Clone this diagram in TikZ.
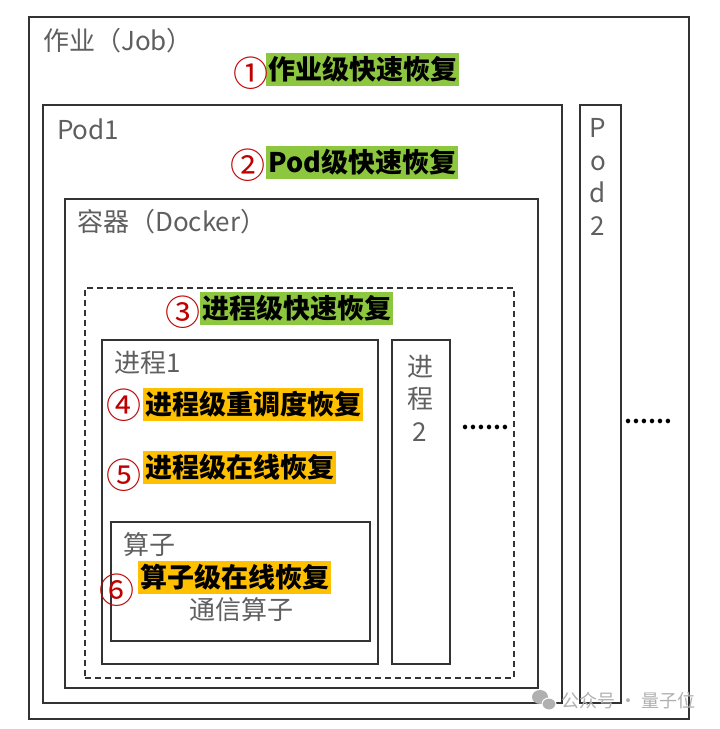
\documentclass[tikz,border=0pt]{standalone}
\usepackage{fontspec}
\setmainfont{Noto Sans CJK SC}
\usetikzlibrary{positioning}
\definecolor{boxline}{HTML}{333333}
\definecolor{labelgray}{HTML}{5F5F5F}
\definecolor{hlgreen}{HTML}{8DC63F}
\definecolor{hlyellow}{HTML}{FFC000}
\definecolor{numred}{HTML}{C00000}
\definecolor{markgray}{HTML}{B0B0B0}
\tikzset{
  box/.style={draw=boxline, line width=1.6pt, anchor=north west, inner sep=0pt},
  lbl/.style={text=labelgray, font=\fontsize{26}{28}\selectfont, inner sep=0pt, anchor=west},
  hl/.style={text=black, font=\fontsize{27}{30}\selectfont\bfseries, inner xsep=2pt, inner ysep=0pt, minimum height=33pt, anchor=west},
  num/.style={text=numred, font=\fontsize{35}{36}\selectfont, inner sep=0pt},
}

\begin{document}
\begin{tikzpicture}[x=1pt, y=-1pt]
\fill[white] (0,0) rectangle (720,729);
\useasboundingbox (0,0) rectangle (720,729);
% boxes
\node[box, minimum width=660pt, minimum height=702pt] (job) at (28,16) {};
\node[box, minimum width=519pt, minimum height=598pt] (pod1) at (42,104) {};
\node[box, minimum width=41pt, minimum height=598pt] (pod2) at (579,104) {};
\node[box, minimum width=473pt, minimum height=489pt] (docker) at (64,198) {};
\node[box, dashed, dash pattern=on 6pt off 4pt, minimum width=429pt, minimum height=390pt] (proc) at (84,287) {};
\node[box, minimum width=276pt, minimum height=324pt] (proc1) at (101,339) {};
\node[box, minimum width=58pt, minimum height=324pt] (proc2) at (391,339) {};
\node[box, minimum width=259pt, minimum height=119pt] (op) at (110,521) {};
%============
\node[lbl] (jobtxt) at (43,41) {作业（Job）};
\node[lbl] (pod1txt) at (57,129) {Pod1};
\node[lbl, anchor=center, align=center, font=\fontsize{26}{32.5}\selectfont] (pod2txt) at (598,177) {P\\o\\d\\2};
\node[lbl] (dockertxt) at (77,222) {容器（Docker）};
\node[lbl] (proc1txt) at (114,363) {进程1};
\node[lbl, anchor=center, align=center, font=\fontsize{26}{32.5}\selectfont] (proc2txt) at (420,398) {进\\程\\2};
\node[lbl] (optxt) at (123,545) {算子};
\node[lbl, anchor=center] (commtxt) at (241,610) {通信算子};
\node[lbl, anchor=center, text=black, font=\fontsize{21}{22}\selectfont\bfseries] (dots1) at (485,427) {……};
\node[lbl, anchor=center, text=black, font=\fontsize{21}{22}\selectfont\bfseries] (dots2) at (648,421) {……};
%============
\node[hl, fill=hlgreen] (r1) at (266,69) {作业级快速恢复};
\node[hl, fill=hlgreen] (r2) at (266,162) {Pod级快速恢复};
\node[hl, fill=hlgreen] (r3) at (200,308) {进程级快速恢复};
\node[hl, fill=hlyellow] (r4) at (143,404) {进程级重调度恢复};
\node[hl, fill=hlyellow] (r5) at (143,467) {进程级在线恢复};
\node[hl, fill=hlyellow] (r6) at (138,577) {算子级在线恢复};
\node[num] (n1) at (251,73) {①};
\node[num] (n2) at (248,165) {②};
\node[num] (n3) at (183,312) {③};
\node[num] (n4) at (124,405) {④};
\node[num] (n5) at (124,475) {⑤};
\node[num] (n6) at (117,590) {⑥};
%============
\fill[markgray] (540,697) ellipse (8pt and 7pt);
\fill[markgray, draw=white, line width=1pt] (549,704) ellipse (7pt and 6pt);
\node[lbl, text=markgray, font=\fontsize{18}{20}\selectfont] (mark) at (561,701) {公众号 · 量子位};
\end{tikzpicture}
\end{document}
